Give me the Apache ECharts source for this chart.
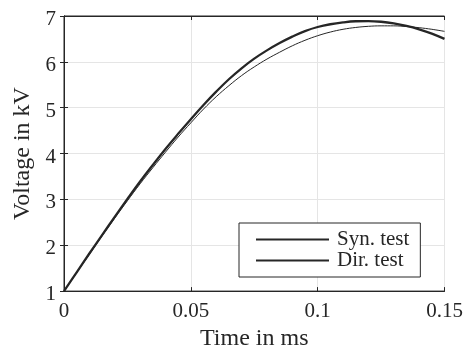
<!DOCTYPE html>
<html>
<head>
<meta charset="utf-8">
<script src="https://cdn.jsdelivr.net/npm/echarts@6/dist/echarts.min.js"></script>
<style>
html, body { margin: 0; padding: 0; background: #fff; }
#container { width: 466px; height: 356px; }
</style>
</head>
<body>
<div id="container"></div>
<script>
// time in ms
var times = [0, 0.005, 0.01, 0.015, 0.02, 0.025, 0.03, 0.035, 0.04, 0.045,
  0.05, 0.055, 0.06, 0.065, 0.07, 0.075, 0.08, 0.085, 0.09, 0.095,
  0.1, 0.105, 0.11, 0.115, 0.12, 0.125, 0.13, 0.135, 0.14, 0.145, 0.15];
// voltage in kV
var synTest = [1.0, 1.41, 1.82, 2.22, 2.62, 3.01, 3.39, 3.75, 4.10, 4.43,
  4.75, 5.06, 5.35, 5.62, 5.86, 6.07, 6.25, 6.41, 6.55, 6.67,
  6.76, 6.82, 6.86, 6.885, 6.89, 6.875, 6.84, 6.785, 6.71, 6.615, 6.50];
var dirTest = [1.0, 1.40, 1.80, 2.20, 2.59, 2.97, 3.34, 3.69, 4.03, 4.36,
  4.67, 4.97, 5.24, 5.48, 5.70, 5.89, 6.06, 6.21, 6.35, 6.47,
  6.57, 6.65, 6.71, 6.75, 6.775, 6.785, 6.785, 6.77, 6.745, 6.71, 6.665];
var xTicks = [0, 0.05, 0.1, 0.15];
var yTicks = [1, 2, 3, 4, 5, 6, 7];

var dom = document.getElementById('container');
var myChart = echarts.init(dom, null, { renderer: 'canvas' });

var font = 'Liberation Serif';
var ink = '#262626';

function pairs(ys) {
  return times.map(function (t, i) { return [t, ys[i]]; });
}

var option = {
  animation: false,
  textStyle: { fontFamily: font },
  grid: {
    left: 64, right: 21.5, top: 16, bottom: 56.5,
    show: true, borderColor: ink, borderWidth: 1
  },
  legend: {
    orient: 'vertical',
    left: 239, top: 223,
    padding: [6, 11, 6, 16],
    itemGap: 0,
    itemWidth: 73,
    itemHeight: 14,
    backgroundColor: '#fff',
    borderColor: ink,
    borderWidth: 1,
    borderRadius: 0,
    itemStyle: { opacity: 0 },
    textStyle: { fontFamily: font, fontSize: 21, color: ink, lineHeight: 21, padding: [0, 0, 0, 3] },
    data: ['Syn. test', 'Dir. test']
  },
  xAxis: [{
    type: 'value',
    min: xTicks[0], max: xTicks[xTicks.length - 1], interval: 0.05,
    name: 'Time in ms', nameLocation: 'middle', nameGap: 29,
    nameTextStyle: { fontFamily: font, fontSize: 24, color: ink },
    axisLine: { show: true, lineStyle: { color: ink } },
    axisTick: { show: true, inside: true, length: 4, lineStyle: { color: ink } },
    axisLabel: { fontFamily: font, fontSize: 21, color: ink, margin: 10,
      formatter: function (v) { return String(+v.toFixed(2)); } },
    splitLine: { show: true, lineStyle: { color: '#e5e5e5', width: 1 } }
  }, {
    type: 'value', position: 'top',
    min: xTicks[0], max: xTicks[xTicks.length - 1], interval: 0.05,
    axisLine: { show: true, lineStyle: { color: ink } },
    axisTick: { show: true, inside: true, length: 4, lineStyle: { color: ink } },
    axisLabel: { show: false },
    splitLine: { show: false }
  }],
  yAxis: [{
    type: 'value',
    min: yTicks[0], max: yTicks[yTicks.length - 1], interval: 1,
    name: 'Voltage in kV', nameLocation: 'middle', nameGap: 27,
    nameTextStyle: { fontFamily: font, fontSize: 24, color: ink },
    axisLine: { show: true, lineStyle: { color: ink } },
    axisTick: { show: true, inside: true, length: 4, lineStyle: { color: ink } },
    axisLabel: {
      margin: 8,
      formatter: function (v) { return '{n|' + v + '}'; },
      rich: { n: { fontFamily: font, fontSize: 21, color: ink, padding: [7, 0, 0, 0] } }
    },
    splitLine: { show: true, lineStyle: { color: '#e5e5e5', width: 1 } }
  }, {
    type: 'value', position: 'right',
    min: yTicks[0], max: yTicks[yTicks.length - 1], interval: 1,
    axisLine: { show: true, lineStyle: { color: ink } },
    axisTick: { show: true, inside: true, length: 4, lineStyle: { color: ink } },
    axisLabel: { show: false },
    splitLine: { show: false }
  }],
  series: [{
    name: 'Syn. test',
    type: 'line',
    data: pairs(synTest),
    smooth: 0.4,
    symbol: 'none',
    color: ink,
    lineStyle: { color: ink, width: 2.3 }
  }, {
    name: 'Dir. test',
    type: 'line',
    data: pairs(dirTest),
    smooth: 0.4,
    symbol: 'none',
    color: ink,
    lineStyle: { color: ink, width: 1 }
  }]
};

myChart.setOption(option);
window.addEventListener('resize', myChart.resize);
</script>
</body>
</html>
